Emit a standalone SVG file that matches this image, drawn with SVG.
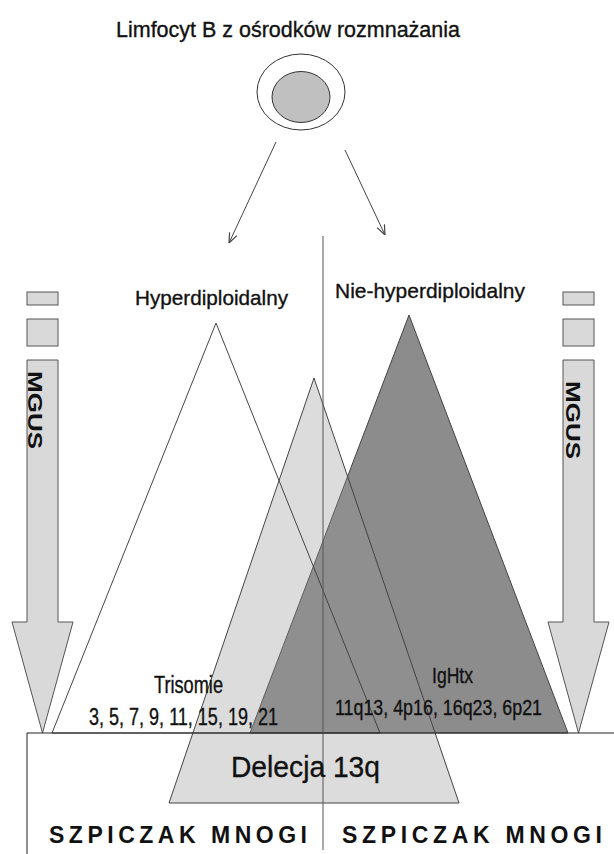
<svg xmlns="http://www.w3.org/2000/svg" width="614" height="854" viewBox="0 0 614 854">
<style>
  .t { font-family: "Liberation Sans", Arial, sans-serif; fill: #111; stroke: #111; stroke-width: 0.35; }
  .tb { font-family: "Liberation Sans", Arial, sans-serif; font-weight: bold; fill: #111; }
  .ln { stroke: #444; stroke-width: 1; fill: none; }
  .mgus { fill: #d9d9d9; stroke: #555; stroke-width: 1; }
  .tri { stroke: #444; stroke-width: 1; }
</style>
<defs>
  <marker id="open" viewBox="0 0 10 10" refX="10" refY="5" markerWidth="10" markerHeight="10" markerUnits="userSpaceOnUse" orient="auto">
    <path d="M0,1 L10,5 L0,9" fill="none" stroke="#444" stroke-width="1.2"/>
  </marker>
</defs>
<rect width="614" height="854" fill="#fff"/>

<g id="title">
  <text class="t" x="116" y="37" font-size="22" textLength="344" lengthAdjust="spacingAndGlyphs">Limfocyt B z ośrodków rozmnażania</text>
</g>

<g id="cell">
  <ellipse cx="301" cy="92" rx="44" ry="38" fill="#fff" stroke="#333" stroke-width="1"/>
  <ellipse cx="301" cy="97" rx="29" ry="25.5" fill="#c0c0c0" stroke="#333" stroke-width="1"/>
</g>

<g id="mgus-left">
  <rect class="mgus" x="27" y="292" width="31" height="13"/>
  <rect class="mgus" x="27" y="319" width="31" height="27"/>
  <polygon class="mgus" points="27,360 58,360 58,622 73,622 42.5,733 12,622 27,622"/>
  <text class="tb" font-size="26" text-anchor="middle" transform="translate(28,410) rotate(90) scale(1,0.8)">MGUS</text>
</g>

<g id="mgus-right">
  <rect class="mgus" x="563" y="292" width="31" height="13"/>
  <rect class="mgus" x="563" y="319" width="31" height="27"/>
  <polygon class="mgus" points="563,360 594,360 594,622 609,622 578.5,733 548,622 563,622"/>
  <text class="tb" font-size="26" text-anchor="middle" transform="translate(566,420) rotate(90) scale(1,0.8)">MGUS</text>
</g>

<g id="tri-nonhyper">
  <polygon class="tri" points="250,733 409,315 568,733" fill="#8c8c8c"/>
</g>

<g id="tri-del13">
  <polygon points="169,803 314,378 459,803" fill="#949494" fill-opacity="0.33"/>
  <polygon class="tri" points="169,803 314,378 459,803" fill="none"/>
</g>

<g id="tri-hyper">
  <polygon class="tri" points="52,733 216,323 380,733" fill="none"/>
</g>

<g id="connectors">
  <line class="ln" x1="276" y1="142" x2="229" y2="243" marker-end="url(#open)"/>
  <line class="ln" x1="345" y1="150" x2="385" y2="235" marker-end="url(#open)"/>
  <line x1="323" y1="236" x2="323" y2="850" stroke="#555" stroke-width="1"/>
  <line x1="27" y1="733" x2="614" y2="733" stroke="#222" stroke-width="1"/>
  <line x1="27" y1="733" x2="27" y2="854" stroke="#222" stroke-width="1"/>
</g>

<g id="labels">
  <text class="t" x="135" y="305" font-size="21" textLength="153" lengthAdjust="spacingAndGlyphs">Hyperdiploidalny</text>
  <text class="t" x="335" y="298" font-size="21" textLength="190" lengthAdjust="spacingAndGlyphs">Nie-hyperdiploidalny</text>
  <text class="t" x="154" y="693" font-size="23" textLength="69" lengthAdjust="spacingAndGlyphs">Trisomie</text>
  <text class="t" x="89" y="725" font-size="23" textLength="189" lengthAdjust="spacingAndGlyphs">3, 5, 7, 9, 11, 15, 19, 21</text>
  <text class="t" x="432" y="683" font-size="22" textLength="41" lengthAdjust="spacingAndGlyphs">IgHtx</text>
  <text class="t" x="335" y="715" font-size="22" textLength="207" lengthAdjust="spacingAndGlyphs">11q13, 4p16, 16q23, 6p21</text>
  <text class="t" x="231" y="777" font-size="30" textLength="149" lengthAdjust="spacingAndGlyphs">Delecja 13q</text>
  <text class="tb" x="49" y="843" font-size="23" textLength="258" lengthAdjust="spacing">SZPICZAK MNOGI</text>
  <text class="tb" x="342" y="843" font-size="23" textLength="260" lengthAdjust="spacing">SZPICZAK MNOGI</text>
</g>
</svg>
